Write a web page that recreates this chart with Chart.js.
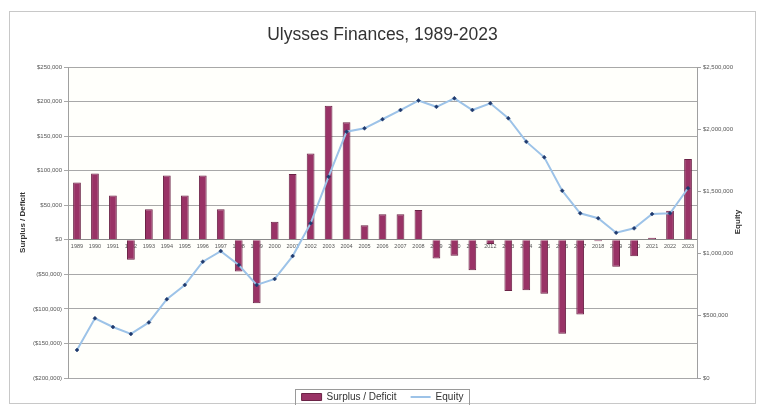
<!DOCTYPE html>
<html>
<head>
<meta charset="utf-8">
<script src="https://cdn.jsdelivr.net/npm/chart.js@4"></script>
<style>
  html, body { margin: 0; padding: 0; background: #fff; }
  #wrap { width: 763px; height: 405px; }
</style>
</head>
<body>
<div id="wrap"><canvas id="chart" width="763" height="405"></canvas></div>
<script>
const years = ['1989','1990','1991','1992','1993','1994','1995','1996','1997','1998','1999','2000',
  '2001','2002','2003','2004','2005','2006','2007','2008','2009','2010','2011','2012','2013','2014',
  '2015','2016','2017','2018','2019','2020','2021','2022','2023'];

// annual surplus / deficit, dollars
const surplus = [83000, 96000, 64000, -29000, 44000, 93000, 64000, 93000, 44000, -46000, -92000, 26000,
  95000, 125000, 194000, 170000, 21000, 37000, 37000, 43000, -27000, -23000, -44000, -6000, -74000, -73000,
  -78000, -136000, -108000, -2000, -39000, -24000, 3000, 42000, 117000];

// equity at year end, dollars
const equity = [225000, 480000, 410000, 354000, 447000, 633000, 748000, 935000, 1020000, 908000, 748000, 796000,
  980000, 1243000, 1618000, 1980000, 2007000, 2080000, 2154000, 2230000, 2180000, 2248000, 2154000, 2208000,
  2088000, 1900000, 1774000, 1506000, 1324000, 1284000, 1168000, 1203000, 1318000, 1324000, 1525000];

const FONT = 'Liberation Sans, Arial, sans-serif';

function money(v) {
  const s = '$' + Math.abs(v).toLocaleString('en-US');
  return v < 0 ? '(' + s + ')' : s;
}

const frame = {
  id: 'frame',
  beforeDraw(chart) {
    const c = chart.ctx, a = chart.chartArea;
    c.save();
    c.fillStyle = '#fffffb';
    c.fillRect(a.left, a.top, a.right - a.left, a.bottom - a.top);
    c.strokeStyle = '#f3efd2';
    c.beginPath();
    c.moveTo(a.left, a.top + 0.5);
    c.lineTo(a.right, a.top + 0.5);
    c.stroke();
    c.restore();
  },
  afterDraw(chart) {
    const c = chart.ctx;
    c.save();
    c.strokeStyle = '#c8c8c8';
    c.lineWidth = 1;
    c.strokeRect(9.5, 11.5, 746, 392);
    // legend frame around the items
    const hb = chart.legend.legendHitBoxes;
    if (hb && hb.length) {
      let x0 = Infinity, x1 = -Infinity, y0 = Infinity, y1 = -Infinity;
      hb.forEach(b => {
        x0 = Math.min(x0, b.left); x1 = Math.max(x1, b.left + b.width);
        y0 = Math.min(y0, b.top); y1 = Math.max(y1, b.top + b.height);
      });
      c.strokeStyle = '#9a9a9a';
      c.strokeRect(Math.round(x0 - 7) + 0.5, Math.round(y0 - 3) + 0.5, Math.round(x1 - x0 + 12), Math.round(y1 - y0 + 6));
    }
    // secondary axis title, rotated like the primary one
    c.translate(738, 222);
    c.rotate(-Math.PI / 2);
    c.fillStyle = '#333';
    c.font = 'bold 8px ' + FONT;
    c.textAlign = 'center';
    c.textBaseline = 'middle';
    c.fillText('Equity', 0, 0);
    c.restore();
  }
};

new Chart(document.getElementById('chart'), {
  data: {
    labels: years,
    datasets: [
      {
        type: 'bar',
        label: 'Surplus / Deficit',
        data: surplus,
        yAxisID: 'y',
        backgroundColor: '#993366',
        borderColor: '#6b2346',
        borderWidth: 1,
        barPercentage: 0.9,
        categoryPercentage: 0.48,
        order: 1
      },
      {
        type: 'line',
        label: 'Equity',
        data: equity,
        yAxisID: 'y1',
        borderColor: '#9dc3e8',
        backgroundColor: '#1f3a6e',
        borderWidth: 2,
        pointStyle: 'rectRot',
        pointRadius: 2,
        pointBorderColor: '#1f3a6e',
        pointBackgroundColor: '#1f3a6e',
        pointBorderWidth: 0.5,
        tension: 0,
        order: 0
      }
    ]
  },
  options: {
    responsive: false,
    animation: false,
    events: [],
    layout: { padding: { left: 10, right: 8, top: 0, bottom: -7 } },
    plugins: {
      title: {
        display: true,
        text: 'Ulysses Finances, 1989-2023',
        color: '#333',
        font: { family: FONT, size: 17.5, weight: 'normal' },
        padding: { top: 25, bottom: 21 }
      },
      legend: {
        position: 'bottom',
        labels: {
          color: '#333',
          font: { family: FONT, size: 10 },
          usePointStyle: true,
          pointStyleWidth: 20,
          boxHeight: 7,
          padding: 14,
          sort: (a, b) => a.datasetIndex - b.datasetIndex,
          generateLabels(chart) {
            const items = Chart.defaults.plugins.legend.labels.generateLabels(chart);
            items.forEach(it => {
              if (it.datasetIndex === 0) {
                it.pointStyle = 'rect';
              } else {
                it.pointStyle = 'line';
                it.strokeStyle = '#9dc3e8';
                it.lineWidth = 2;
              }
            });
            return items;
          }
        }
      },
      tooltip: { enabled: false }
    },
    scales: {
      x: {
        position: { y: 0 },
        offset: true,
        grid: { display: false, drawTicks: false },
        border: { display: true, color: '#8a8a8a' },
        ticks: {
          color: '#555',
          font: { family: FONT, size: 5.5 },
          maxRotation: 0,
          autoSkip: false,
          padding: 3
        },
        afterFit(s) { s.height = 0; }
      },
      y: {
        position: 'left',
        min: -200000,
        max: 250000,
        afterFit(s) { s.width = 58; },
        ticks: {
          stepSize: 50000,
          color: '#555',
          font: { family: FONT, size: 6 },
          padding: 2,
          callback: v => money(v)
        },
        grid: { color: '#a8a8a8', tickLength: 4, drawTicks: true },
        border: { color: '#a0a0a0' },
        title: {
          display: true,
          text: 'Surplus / Deficit',
          color: '#333',
          font: { family: FONT, size: 8, weight: 'bold' },
          padding: { top: 8, bottom: 4 }
        }
      },
      y1: {
        position: 'right',
        min: 0,
        max: 2500000,
        afterFit(s) { s.width = 58; },
        ticks: {
          stepSize: 500000,
          color: '#555',
          font: { family: FONT, size: 6 },
          padding: 2,
          callback: v => money(v)
        },
        grid: { drawOnChartArea: false, tickLength: 4, color: '#a0a0a0' },
        border: { color: '#a0a0a0' }
      }
    }
  },
  plugins: [frame]
});
</script>
</body>
</html>
